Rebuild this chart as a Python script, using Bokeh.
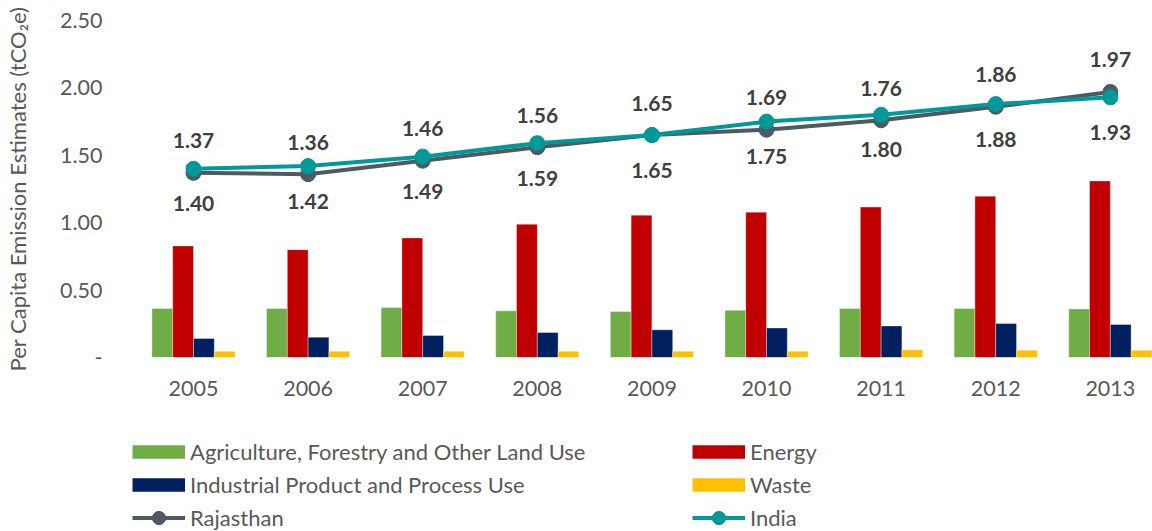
from bokeh.plotting import figure
from bokeh.layouts import column
from bokeh.models import (ColumnDataSource, FixedTicker, Legend, LegendItem,
                          Range1d)
from bokeh.transform import dodge
from bokeh.core.properties import value
from bokeh.embed import file_html
from bokeh.resources import INLINE

# Per capita emissions by sector (tCO2e)
years = ["2005", "2006", "2007", "2008", "2009", "2010", "2011", "2012", "2013"]
afolu = [0.364, 0.364, 0.370, 0.346, 0.341, 0.350, 0.364, 0.364, 0.360]
energy = [0.828, 0.800, 0.887, 0.989, 1.056, 1.078, 1.116, 1.197, 1.310]
ippu = [0.141, 0.151, 0.163, 0.185, 0.205, 0.219, 0.234, 0.252, 0.245]
waste = [0.047, 0.047, 0.047, 0.047, 0.047, 0.047, 0.057, 0.054, 0.054]

# Total per capita emissions
rajasthan = [1.37, 1.36, 1.46, 1.56, 1.65, 1.69, 1.76, 1.86, 1.97]
india = [1.40, 1.42, 1.49, 1.59, 1.65, 1.75, 1.80, 1.88, 1.93]

y_ticks = [0, 0.5, 1.0, 1.5, 2.0, 2.5]
y_tick_labels = ["-", "0.50", "1.00", "1.50", "2.00", "2.50"]

FONT = "Lato"
TEXT_GREY = "#595959"
LABEL_GREY = "#404040"
C_AFOLU = "#70AD47"
C_ENERGY = "#C00000"
C_IPPU = "#002060"
C_WASTE = "#FFC000"
C_RAJ = "#4D5A64"
C_IND = "#009999"

xs = list(range(len(years)))
src = ColumnDataSource(dict(
    x=xs, afolu=afolu, energy=energy, ippu=ippu, waste=waste,
    raj=rajasthan, ind=india,
    raj_lbl=[f"{v:.2f}" for v in rajasthan],
    ind_lbl=[f"{v:.2f}" for v in india],
))

p = figure(width=1152, height=410, output_backend="svg", toolbar_location=None,
           x_range=Range1d(-0.637, 8.368), y_range=Range1d(0, 2.5),
           min_border_left=120, min_border_right=0, min_border_top=20,
           min_border_bottom=53, outline_line_color=None)
p.xgrid.visible = False
p.ygrid.visible = False

bw = 0.1815
sectors = [("afolu", C_AFOLU), ("energy", C_ENERGY), ("ippu", C_IPPU), ("waste", C_WASTE)]
for k, (col, color) in enumerate(sectors):
    p.vbar(x=dodge("x", (k - 1.5) * bw, range=p.x_range), top=col, width=bw,
           source=src, fill_color=color, line_color="white",
           line_alpha=0.45, line_width=0.8)

p.line("x", "raj", source=src, line_color=C_RAJ, line_width=4)
p.scatter("x", "raj", source=src, size=15, fill_color=C_RAJ, line_color=C_RAJ)
p.line("x", "ind", source=src, line_color=C_IND, line_width=4)
p.scatter("x", "ind", source=src, size=15, fill_color=C_IND, line_color=C_IND)

p.text("x", "raj", text="raj_lbl", source=src, y_offset=-32,
       text_align="center", text_baseline="middle", text_font=value(FONT),
       text_font_style="bold", text_font_size="21px", text_color=LABEL_GREY)
p.text("x", "ind", text="ind_lbl", source=src, y_offset=35,
       text_align="center", text_baseline="middle", text_font=value(FONT),
       text_font_style="bold", text_font_size="21px", text_color=LABEL_GREY)

# axes
p.xaxis.ticker = FixedTicker(ticks=xs)
p.xaxis.major_label_overrides = {i: y for i, y in enumerate(years)}
p.yaxis.ticker = FixedTicker(ticks=y_ticks)
p.yaxis.major_label_overrides = dict(zip(y_ticks, y_tick_labels))
for ax in (p.xaxis[0], p.yaxis[0]):
    ax.axis_line_color = None
    ax.major_tick_line_color = None
    ax.minor_tick_line_color = None
    ax.major_label_text_font = FONT
    ax.major_label_text_font_size = "21.5px"
    ax.major_label_text_color = TEXT_GREY
p.xaxis.major_label_standoff = 17
p.yaxis.major_label_standoff = 12
p.yaxis.axis_label = "Per Capita Emission Estimates (tCO\u2082e)"
p.yaxis.axis_label_text_font = FONT
p.yaxis.axis_label_text_font_style = "normal"
p.yaxis.axis_label_text_font_size = "22px"
p.yaxis.axis_label_text_color = TEXT_GREY
p.yaxis.axis_label_standoff = 26

# legend panel underneath; its key renderers share the chart's data but
# sit outside this panel's ranges, so only the legend keys show
lp = figure(width=1152, height=121, output_backend="svg", toolbar_location=None,
            x_range=Range1d(-30, -29), y_range=Range1d(-30, -29),
            x_axis_location=None, y_axis_location=None,
            min_border=0, outline_line_color=None)
lp.xgrid.visible = False
lp.ygrid.visible = False


def key_bar(col, color):
    # a thick butt-capped stroke gives a vertically centred swatch
    return [lp.line("x", col, source=src, line_color=color, line_width=13.5)]


def key_line(col, color):
    ln = lp.line("x", col, source=src, line_color=color, line_width=4)
    pt = lp.scatter("x", col, source=src, size=15, fill_color=color, line_color=color)
    return [ln, pt]


def make_legend(items, loc):
    lg = Legend(items=items, location=loc, orientation="vertical",
                glyph_width=53, glyph_height=33, label_height=33, spacing=0,
                padding=0, margin=0, label_standoff=5,
                label_text_font=FONT, label_text_font_size="22px",
                label_text_color=TEXT_GREY, border_line_color=None,
                background_fill_alpha=0)
    lp.add_layout(lg)


make_legend([
    LegendItem(label="Agriculture, Forestry and Other Land Use", renderers=key_bar("afolu", C_AFOLU)),
    LegendItem(label="Industrial Product and Process Use", renderers=key_bar("ippu", C_IPPU)),
    LegendItem(label="Rajasthan", renderers=key_line("raj", C_RAJ)),
], (12, -3))
make_legend([
    LegendItem(label="Energy", renderers=key_bar("energy", C_ENERGY)),
    LegendItem(label="Waste", renderers=key_bar("waste", C_WASTE)),
    LegendItem(label="India", renderers=key_line("ind", C_IND)),
], (572, -3))

open("out.html", "w").write(file_html(column(p, lp, spacing=0), INLINE))
